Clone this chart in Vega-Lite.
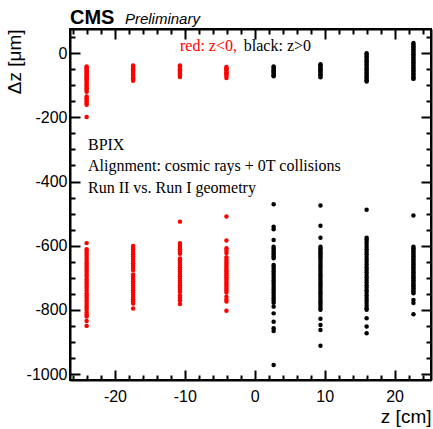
{
 "$schema": "https://vega.github.io/schema/vega-lite/v6.json",
 "width": 361, "height": 351,
 "autosize": "none",
 "padding": {"left": 70, "top": 29, "right": 2, "bottom": 49},
 "background": "white",
 "config": {"view": {"stroke": "black", "strokeWidth": 2},
  "axis": {"grid": false, "domainColor": "black", "domainWidth": 2, "tickColor": "black", "tickWidth": 2,
   "labelFont": "Liberation Sans", "labelFontSize": 16, "labelColor": "black", "labelOverlap": false,
   "titleFont": "Liberation Sans", "titleFontSize": 19, "titleFontWeight": "normal", "titleColor": "black"}},
 "data": {"values": [
  {"z":-24.05,"dz":-41},{"z":-24.05,"dz":-45},{"z":-24.05,"dz":-48},{"z":-24.05,"dz":-52},{"z":-24.05,"dz":-55},{"z":-24.05,"dz":-58},{"z":-24.05,"dz":-62},{"z":-24.05,"dz":-66},{"z":-24.05,"dz":-70},{"z":-24.05,"dz":-74},{"z":-24.05,"dz":-78},{"z":-24.05,"dz":-82},{"z":-24.05,"dz":-86},{"z":-24.05,"dz":-90},{"z":-24.05,"dz":-95},{"z":-24.05,"dz":-100},{"z":-24.05,"dz":-105},{"z":-24.05,"dz":-110},{"z":-24.05,"dz":-115},{"z":-24.05,"dz":-120},{"z":-24.05,"dz":-135},{"z":-24.05,"dz":-140},{"z":-24.05,"dz":-145},{"z":-24.05,"dz":-150},{"z":-24.05,"dz":-156},{"z":-24.05,"dz":-161},{"z":-24.05,"dz":-199},
  {"z":-24.05,"dz":-592},{"z":-24.05,"dz":-611},{"z":-24.05,"dz":-618},{"z":-24.05,"dz":-625},{"z":-24.05,"dz":-632},{"z":-24.05,"dz":-640},{"z":-24.05,"dz":-648},{"z":-24.05,"dz":-655},{"z":-24.05,"dz":-662},{"z":-24.05,"dz":-668},{"z":-24.05,"dz":-675},{"z":-24.05,"dz":-682},{"z":-24.05,"dz":-690},{"z":-24.05,"dz":-697},{"z":-24.05,"dz":-705},{"z":-24.05,"dz":-712},{"z":-24.05,"dz":-718},{"z":-24.05,"dz":-725},{"z":-24.05,"dz":-732},{"z":-24.05,"dz":-740},{"z":-24.05,"dz":-748},{"z":-24.05,"dz":-755},{"z":-24.05,"dz":-762},{"z":-24.05,"dz":-770},{"z":-24.05,"dz":-778},{"z":-24.05,"dz":-785},{"z":-24.05,"dz":-792},{"z":-24.05,"dz":-800},{"z":-24.05,"dz":-808},{"z":-24.05,"dz":-815},{"z":-24.05,"dz":-821},{"z":-24.05,"dz":-835},{"z":-24.05,"dz":-850},
  {"z":-17.4,"dz":-38},{"z":-17.4,"dz":-42},{"z":-17.4,"dz":-46},{"z":-17.4,"dz":-50},{"z":-17.4,"dz":-54},{"z":-17.4,"dz":-58},{"z":-17.4,"dz":-62},{"z":-17.4,"dz":-66},{"z":-17.4,"dz":-70},{"z":-17.4,"dz":-74},{"z":-17.4,"dz":-78},{"z":-17.4,"dz":-82},{"z":-17.4,"dz":-86},
  {"z":-17.4,"dz":-601},{"z":-17.4,"dz":-607},{"z":-17.4,"dz":-613},{"z":-17.4,"dz":-620},{"z":-17.4,"dz":-627},{"z":-17.4,"dz":-634},{"z":-17.4,"dz":-641},{"z":-17.4,"dz":-648},{"z":-17.4,"dz":-655},{"z":-17.4,"dz":-662},{"z":-17.4,"dz":-669},{"z":-17.4,"dz":-676},{"z":-17.4,"dz":-690},{"z":-17.4,"dz":-697},{"z":-17.4,"dz":-704},{"z":-17.4,"dz":-711},{"z":-17.4,"dz":-718},{"z":-17.4,"dz":-725},{"z":-17.4,"dz":-732},{"z":-17.4,"dz":-739},{"z":-17.4,"dz":-746},{"z":-17.4,"dz":-753},{"z":-17.4,"dz":-760},{"z":-17.4,"dz":-767},{"z":-17.4,"dz":-773},{"z":-17.4,"dz":-780},{"z":-17.4,"dz":-796},
  {"z":-10.7,"dz":-38},{"z":-10.7,"dz":-42},{"z":-10.7,"dz":-46},{"z":-10.7,"dz":-50},{"z":-10.7,"dz":-54},{"z":-10.7,"dz":-58},{"z":-10.7,"dz":-62},{"z":-10.7,"dz":-66},{"z":-10.7,"dz":-70},{"z":-10.7,"dz":-74},
  {"z":-10.7,"dz":-525},{"z":-10.7,"dz":-592},{"z":-10.7,"dz":-598},{"z":-10.7,"dz":-604},{"z":-10.7,"dz":-611},{"z":-10.7,"dz":-618},{"z":-10.7,"dz":-625},{"z":-10.7,"dz":-640},{"z":-10.7,"dz":-646},{"z":-10.7,"dz":-653},{"z":-10.7,"dz":-660},{"z":-10.7,"dz":-667},{"z":-10.7,"dz":-674},{"z":-10.7,"dz":-681},{"z":-10.7,"dz":-688},{"z":-10.7,"dz":-695},{"z":-10.7,"dz":-702},{"z":-10.7,"dz":-709},{"z":-10.7,"dz":-716},{"z":-10.7,"dz":-723},{"z":-10.7,"dz":-730},{"z":-10.7,"dz":-737},{"z":-10.7,"dz":-744},{"z":-10.7,"dz":-755},{"z":-10.7,"dz":-762},{"z":-10.7,"dz":-770},{"z":-10.7,"dz":-782},
  {"z":-4.05,"dz":-43},{"z":-4.05,"dz":-47},{"z":-4.05,"dz":-51},{"z":-4.05,"dz":-55},{"z":-4.05,"dz":-59},{"z":-4.05,"dz":-63},{"z":-4.05,"dz":-67},{"z":-4.05,"dz":-71},{"z":-4.05,"dz":-77},
  {"z":-4.05,"dz":-509},{"z":-4.05,"dz":-584},{"z":-4.05,"dz":-608},{"z":-4.05,"dz":-616},{"z":-4.05,"dz":-623},{"z":-4.05,"dz":-636},{"z":-4.05,"dz":-644},{"z":-4.05,"dz":-650},{"z":-4.05,"dz":-656},{"z":-4.05,"dz":-662},{"z":-4.05,"dz":-668},{"z":-4.05,"dz":-674},{"z":-4.05,"dz":-680},{"z":-4.05,"dz":-686},{"z":-4.05,"dz":-692},{"z":-4.05,"dz":-698},{"z":-4.05,"dz":-704},{"z":-4.05,"dz":-710},{"z":-4.05,"dz":-716},{"z":-4.05,"dz":-722},{"z":-4.05,"dz":-728},{"z":-4.05,"dz":-734},{"z":-4.05,"dz":-740},{"z":-4.05,"dz":-746},{"z":-4.05,"dz":-759},{"z":-4.05,"dz":-768},{"z":-4.05,"dz":-774},{"z":-4.05,"dz":-803},
  {"z":2.7,"dz":-41},{"z":2.7,"dz":-45},{"z":2.7,"dz":-49},{"z":2.7,"dz":-53},{"z":2.7,"dz":-57},{"z":2.7,"dz":-61},{"z":2.7,"dz":-65},{"z":2.7,"dz":-69},{"z":2.7,"dz":-72},
  {"z":2.7,"dz":-471},{"z":2.7,"dz":-541},{"z":2.7,"dz":-549},{"z":2.7,"dz":-582},{"z":2.7,"dz":-603},{"z":2.7,"dz":-609},{"z":2.7,"dz":-615},{"z":2.7,"dz":-621},{"z":2.7,"dz":-627},{"z":2.7,"dz":-633},{"z":2.7,"dz":-639},{"z":2.7,"dz":-660},{"z":2.7,"dz":-666},{"z":2.7,"dz":-673},{"z":2.7,"dz":-680},{"z":2.7,"dz":-687},{"z":2.7,"dz":-694},{"z":2.7,"dz":-701},{"z":2.7,"dz":-708},{"z":2.7,"dz":-715},{"z":2.7,"dz":-722},{"z":2.7,"dz":-729},{"z":2.7,"dz":-736},{"z":2.7,"dz":-743},{"z":2.7,"dz":-750},{"z":2.7,"dz":-757},{"z":2.7,"dz":-764},{"z":2.7,"dz":-771},{"z":2.7,"dz":-778},{"z":2.7,"dz":-790},{"z":2.7,"dz":-811},{"z":2.7,"dz":-837},{"z":2.7,"dz":-857},{"z":2.7,"dz":-866},{"z":2.7,"dz":-972},
  {"z":9.4,"dz":-34},{"z":9.4,"dz":-38},{"z":9.4,"dz":-42},{"z":9.4,"dz":-46},{"z":9.4,"dz":-50},{"z":9.4,"dz":-54},{"z":9.4,"dz":-58},{"z":9.4,"dz":-62},{"z":9.4,"dz":-66},{"z":9.4,"dz":-70},{"z":9.4,"dz":-75},
  {"z":9.4,"dz":-475},{"z":9.4,"dz":-538},{"z":9.4,"dz":-575},{"z":9.4,"dz":-603},{"z":9.4,"dz":-609},{"z":9.4,"dz":-615},{"z":9.4,"dz":-621},{"z":9.4,"dz":-627},{"z":9.4,"dz":-633},{"z":9.4,"dz":-640},{"z":9.4,"dz":-647},{"z":9.4,"dz":-654},{"z":9.4,"dz":-661},{"z":9.4,"dz":-668},{"z":9.4,"dz":-675},{"z":9.4,"dz":-682},{"z":9.4,"dz":-689},{"z":9.4,"dz":-696},{"z":9.4,"dz":-703},{"z":9.4,"dz":-710},{"z":9.4,"dz":-717},{"z":9.4,"dz":-724},{"z":9.4,"dz":-731},{"z":9.4,"dz":-738},{"z":9.4,"dz":-745},{"z":9.4,"dz":-752},{"z":9.4,"dz":-759},{"z":9.4,"dz":-766},{"z":9.4,"dz":-773},{"z":9.4,"dz":-780},{"z":9.4,"dz":-787},{"z":9.4,"dz":-794},{"z":9.4,"dz":-800},{"z":9.4,"dz":-828},{"z":9.4,"dz":-847},{"z":9.4,"dz":-863},{"z":9.4,"dz":-912},
  {"z":16.0,"dz":0},{"z":16.0,"dz":-5},{"z":16.0,"dz":-10},{"z":16.0,"dz":-15},{"z":16.0,"dz":-20},{"z":16.0,"dz":-25},{"z":16.0,"dz":-30},{"z":16.0,"dz":-35},{"z":16.0,"dz":-40},{"z":16.0,"dz":-45},{"z":16.0,"dz":-50},{"z":16.0,"dz":-55},{"z":16.0,"dz":-60},{"z":16.0,"dz":-65},{"z":16.0,"dz":-70},{"z":16.0,"dz":-75},{"z":16.0,"dz":-80},{"z":16.0,"dz":-85},{"z":16.0,"dz":-88},
  {"z":16.0,"dz":-488},{"z":16.0,"dz":-575},{"z":16.0,"dz":-581},{"z":16.0,"dz":-588},{"z":16.0,"dz":-595},{"z":16.0,"dz":-603},{"z":16.0,"dz":-611},{"z":16.0,"dz":-619},{"z":16.0,"dz":-627},{"z":16.0,"dz":-635},{"z":16.0,"dz":-643},{"z":16.0,"dz":-651},{"z":16.0,"dz":-659},{"z":16.0,"dz":-667},{"z":16.0,"dz":-675},{"z":16.0,"dz":-683},{"z":16.0,"dz":-691},{"z":16.0,"dz":-699},{"z":16.0,"dz":-707},{"z":16.0,"dz":-715},{"z":16.0,"dz":-723},{"z":16.0,"dz":-731},{"z":16.0,"dz":-739},{"z":16.0,"dz":-747},{"z":16.0,"dz":-755},{"z":16.0,"dz":-763},{"z":16.0,"dz":-771},{"z":16.0,"dz":-779},{"z":16.0,"dz":-787},{"z":16.0,"dz":-795},{"z":16.0,"dz":-800},{"z":16.0,"dz":-826},{"z":16.0,"dz":-852},{"z":16.0,"dz":-873},
  {"z":22.7,"dz":32},{"z":22.7,"dz":27},{"z":22.7,"dz":22},{"z":22.7,"dz":17},{"z":22.7,"dz":12},{"z":22.7,"dz":7},{"z":22.7,"dz":2},{"z":22.7,"dz":-3},{"z":22.7,"dz":-8},{"z":22.7,"dz":-13},{"z":22.7,"dz":-18},{"z":22.7,"dz":-23},{"z":22.7,"dz":-28},{"z":22.7,"dz":-33},{"z":22.7,"dz":-38},{"z":22.7,"dz":-43},{"z":22.7,"dz":-48},{"z":22.7,"dz":-53},{"z":22.7,"dz":-58},{"z":22.7,"dz":-63},{"z":22.7,"dz":-68},{"z":22.7,"dz":-73},{"z":22.7,"dz":-77},{"z":22.7,"dz":-80},
  {"z":22.7,"dz":-506},{"z":22.7,"dz":-603},{"z":22.7,"dz":-608},{"z":22.7,"dz":-613},{"z":22.7,"dz":-618},{"z":22.7,"dz":-623},{"z":22.7,"dz":-628},{"z":22.7,"dz":-633},{"z":22.7,"dz":-638},{"z":22.7,"dz":-643},{"z":22.7,"dz":-648},{"z":22.7,"dz":-653},{"z":22.7,"dz":-658},{"z":22.7,"dz":-663},{"z":22.7,"dz":-668},{"z":22.7,"dz":-673},{"z":22.7,"dz":-678},{"z":22.7,"dz":-683},{"z":22.7,"dz":-688},{"z":22.7,"dz":-693},{"z":22.7,"dz":-698},{"z":22.7,"dz":-703},{"z":22.7,"dz":-708},{"z":22.7,"dz":-713},{"z":22.7,"dz":-718},{"z":22.7,"dz":-723},{"z":22.7,"dz":-728},{"z":22.7,"dz":-733},{"z":22.7,"dz":-738},{"z":22.7,"dz":-743},{"z":22.7,"dz":-748},{"z":22.7,"dz":-769},{"z":22.7,"dz":-779},{"z":22.7,"dz":-814}
 ]},
 "layer": [
  {"mark": {"type": "circle", "size": 20, "opacity": 1},
   "encoding": {
    "x": {"field": "z", "type": "quantitative", "scale": {"domain": [-26.43, 25.21], "nice": false, "zero": false},
     "axis": {"orient": "bottom", "values": [-26,-24,-22,-20,-18,-16,-14,-12,-10,-8,-6,-4,-2,0,2,4,6,8,10,12,14,16,18,20,22,24],
      "tickSize": {"condition": {"test": "datum.value % 10 === 0", "value": -10}, "value": -5},
      "labelExpr": "datum.value % 10 === 0 ? '' + datum.value : ''", "labelPadding": 18,
      "title": "z [cm]", "titleAnchor": "end", "titlePadding": -2}},
    "y": {"field": "dz", "type": "quantitative", "scale": {"domain": [-1018.7, 75.5], "nice": false, "zero": false},
     "axis": {"orient": "left", "values": [-1000,-950,-900,-850,-800,-750,-700,-650,-600,-550,-500,-450,-400,-350,-300,-250,-200,-150,-100,-50,0,50],
      "tickSize": {"condition": {"test": "datum.value % 200 === 0", "value": -10}, "value": -5},
      "labelExpr": "datum.value % 200 === 0 ? '' + datum.value : ''", "labelPadding": 13,
      "title": "Δz [μm]", "titleAnchor": "end", "titlePadding": 2}},
    "color": {"condition": {"test": "datum.z < 0", "value": "#ff0000"}, "value": "#000000"}
   }},
  {"mark": {"type": "circle", "opacity": 0},
   "encoding": {
    "x": {"field": "z", "type": "quantitative", "scale": {"domain": [-26.43, 25.21], "nice": false, "zero": false},
     "axis": {"orient": "top", "values": [-26,-24,-22,-20,-18,-16,-14,-12,-10,-8,-6,-4,-2,0,2,4,6,8,10,12,14,16,18,20,22,24],
      "tickSize": {"condition": {"test": "datum.value % 10 === 0", "value": -10}, "value": -5},
      "labels": false, "title": null}},
    "y": {"field": "dz", "type": "quantitative", "scale": {"domain": [-1018.7, 75.5], "nice": false, "zero": false},
     "axis": {"orient": "right", "values": [-1000,-950,-900,-850,-800,-750,-700,-650,-600,-550,-500,-450,-400,-350,-300,-250,-200,-150,-100,-50,0,50],
      "tickSize": {"condition": {"test": "datum.value % 200 === 0", "value": -10}, "value": -5},
      "labels": false, "title": null}}
   }},
  {"data": {"values": [{}]},
   "mark": {"type": "text", "text": "CMS", "font": "Liberation Sans", "fontWeight": "bold", "fontSize": 20, "align": "left", "baseline": "alphabetic", "color": "black"},
   "encoding": {
    "x": {"datum": -26.43, "type": "quantitative", "scale": {"domain": [-26.43, 25.21], "nice": false, "zero": false}, "axis": null},
    "y": {"datum": 92, "type": "quantitative", "scale": {"domain": [-1018.7, 75.5], "nice": false, "zero": false}, "axis": null}}},
  {"data": {"values": [{}]},
   "mark": {"type": "text", "text": "Preliminary", "font": "Liberation Sans", "fontStyle": "italic", "fontSize": 15, "align": "left", "baseline": "alphabetic", "color": "black"},
   "encoding": {
    "x": {"datum": -18.57, "type": "quantitative", "scale": {"domain": [-26.43, 25.21], "nice": false, "zero": false}, "axis": null},
    "y": {"datum": 92, "type": "quantitative", "scale": {"domain": [-1018.7, 75.5], "nice": false, "zero": false}, "axis": null}}},
  {"data": {"values": [{}]},
   "mark": {"type": "text", "text": "red: z<0,", "font": "Liberation Serif", "fontSize": 16, "align": "left", "baseline": "alphabetic", "color": "#ff0000"},
   "encoding": {
    "x": {"datum": -10.7, "type": "quantitative", "scale": {"domain": [-26.43, 25.21], "nice": false, "zero": false}, "axis": null},
    "y": {"datum": 5.6, "type": "quantitative", "scale": {"domain": [-1018.7, 75.5], "nice": false, "zero": false}, "axis": null}}},
  {"data": {"values": [{}]},
   "mark": {"type": "text", "text": "black: z>0", "font": "Liberation Serif", "fontSize": 16, "align": "left", "baseline": "alphabetic", "color": "black"},
   "encoding": {
    "x": {"datum": -1.57, "type": "quantitative", "scale": {"domain": [-26.43, 25.21], "nice": false, "zero": false}, "axis": null},
    "y": {"datum": 5.6, "type": "quantitative", "scale": {"domain": [-1018.7, 75.5], "nice": false, "zero": false}, "axis": null}}},
  {"data": {"values": [{}]},
   "mark": {"type": "text", "text": ["BPIX", "Alignment: cosmic rays + 0T collisions", "Run II vs. Run I geometry"], "lineHeight": 21.6, "font": "Liberation Serif", "fontSize": 16, "align": "left", "baseline": "alphabetic", "color": "black"},
   "encoding": {
    "x": {"datum": -23.86, "type": "quantitative", "scale": {"domain": [-26.43, 25.21], "nice": false, "zero": false}, "axis": null},
    "y": {"datum": -301, "type": "quantitative", "scale": {"domain": [-1018.7, 75.5], "nice": false, "zero": false}, "axis": null}}}
 ],
 "resolve": {"axis": {"x": "independent", "y": "independent"}}
}
